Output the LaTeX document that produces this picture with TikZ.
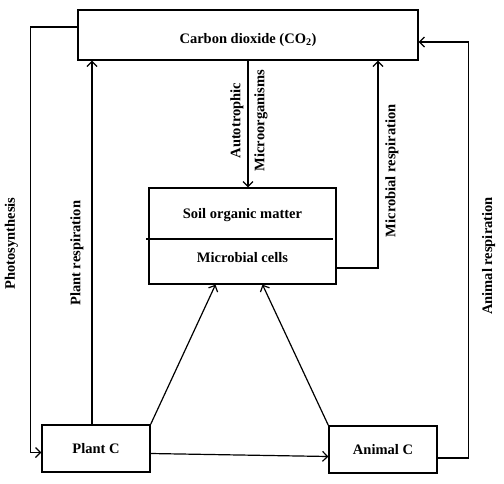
\documentclass[tikz,border=0pt]{standalone}
\usepackage{fontspec}
\setmainfont{Liberation Serif}
\usetikzlibrary{calc,positioning,arrows.meta}

\begin{document}
\begin{tikzpicture}[
    x=1pt, y=-1pt,
    box/.style={rectangle, draw=black, line width=1.3pt, fill=white, font=\fontsize{14.5}{16}\selectfont\bfseries},
    arrow/.style={-{Straight Barb[length=5pt, width=10pt]}, line width=1.2pt, black},
    lbl/.style={font=\fontsize{14.5}{16}\selectfont\bfseries, rotate=90, inner sep=0pt},
    plaintext/.style={font=\fontsize{14.5}{16}\selectfont\bfseries, inner sep=0pt},
]
\useasboundingbox (0,0) rectangle (504,483);

% Boxes
\node[box, minimum width=340pt, minimum height=50pt] (co2) at (248,35) {};
\node[plaintext] (co2-txt) at ($(co2.center)+(0,5)$) {Carbon dioxide (CO\textsubscript{2})};
\node[box, minimum width=187pt, minimum height=96pt] (som) at (242.5,236) {};
\node[plaintext] (som-top) at ($(som.center)+(0,-21)$) {Soil organic matter};
\node[plaintext] (som-bot) at ($(som.center)+(0,22)$) {Microbial cells};
\draw[line width=1.3pt] ($(som.west)+(-2,3)$) -- ($(som.east)+(-4,3)$);
\node[box, minimum width=108pt, minimum height=47pt] (plant) at (96,448.5) {Plant C};
\node[box, minimum width=108pt, minimum height=47pt] (animal) at (383,449.5) {Animal C};

% Photosynthesis
\draw[arrow] ([yshift=8pt]co2.west) -| ([xshift=-11pt, yshift=-4pt]plant.west) -- ([yshift=-4pt]plant.west);
\node[lbl] (photo-lbl) at ($(plant.west)+(-30,-205)$) {Photosynthesis};

% Plant respiration
\draw[arrow] ([xshift=-4pt]plant.north) -- ([xshift=-4pt]plant.north |- co2.south);
\node[lbl] (plantresp-lbl) at ($(plant.north)+(-19,-171)$) {Plant respiration};

% Autotrophic microorganisms
\draw[arrow] (co2.south) -- (co2.south |- som.north);
\node[lbl] (auto-lbl) at ($(co2.south)+(-11,60)$) {Autotrophic};
\node[lbl] (micro-lbl) at ($(co2.south)+(13,60)$) {Microorganisms};

% Microbial respiration
\draw[arrow] ([yshift=-32pt]som.east) -| ([xshift=130pt]co2.south);
\node[lbl] (microresp-lbl) at ($(co2.south)+(144,110)$) {Microbial respiration};

% Animal respiration
\draw[arrow] ([yshift=-8.5pt]animal.east) -- ++(31,0) |- ([yshift=-7pt]co2.east);
\node[lbl] (animalresp-lbl) at ($(animal.east)+(51,-193.5)$) {Animal respiration};

% Flows into soil
\draw[arrow] (plant.north east) -- ([xshift=-27pt]som.south);
\draw[arrow] (animal.north west) -- ([xshift=20pt]som.south);
\draw[arrow] ([yshift=-5pt]plant.east) -- ([yshift=-7pt]animal.west);

\end{tikzpicture}
\end{document}
